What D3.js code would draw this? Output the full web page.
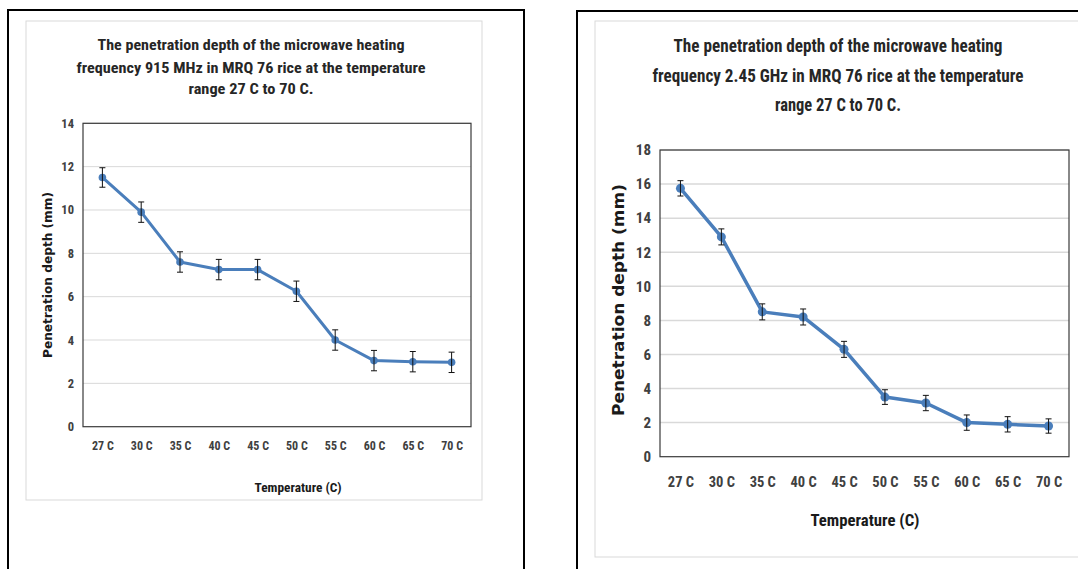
<!DOCTYPE html>
<html>
<head>
<meta charset="utf-8">
<script src="https://cdn.jsdelivr.net/npm/d3@7"></script>
<style>
  html, body { margin: 0; padding: 0; background: #fff; }
  svg { display: block; }
</style>
</head>
<body>
<svg id="chart" width="1078" height="569"></svg>
<script>
// ---------------- data ----------------
const categories = ["27 C", "30 C", "35 C", "40 C", "45 C", "50 C", "55 C", "60 C", "65 C", "70 C"];

const depth915 = [11.5, 9.9, 7.6, 7.25, 7.25, 6.25, 4.0, 3.05, 3.0, 2.97];
const err915   = [0.45, 0.47, 0.47, 0.47, 0.47, 0.47, 0.47, 0.47, 0.47, 0.47];
const yTicks915 = [0, 2, 4, 6, 8, 10, 12, 14];

const depth245 = [15.75, 12.9, 8.5, 8.2, 6.3, 3.5, 3.15, 2.0, 1.9, 1.8];
const err245   = [0.45, 0.47, 0.47, 0.47, 0.47, 0.43, 0.45, 0.45, 0.45, 0.42];
const yTicks245 = [0, 2, 4, 6, 8, 10, 12, 14, 16, 18];

const title915 = [
  "The penetration depth of the microwave heating",
  "frequency 915 MHz  in MRQ 76 rice at the temperature",
  "range 27 C to 70 C."
];
const title245 = [
  "The penetration depth of the microwave heating",
  "frequency 2.45 GHz  in MRQ 76 rice at the temperature",
  "range 27 C to 70 C."
];
const xTitle = "Temperature (C)";
const yTitle = "Penetration depth (mm)";

// ---------------- drawing ----------------
const svg = d3.select("#chart");
const NARROW = "'Liberation Sans Narrow', 'Arial Narrow', 'Roboto Condensed', 'Liberation Sans', sans-serif";
const WIDE = "'DejaVu Sans', Verdana, sans-serif";
const BLUE = "#4a7ebb";

function drawChart(cfg) {
  const g = svg.append("g");

  g.append("rect").attr("x", cfg.outer[0]).attr("y", cfg.outer[1])
    .attr("width", cfg.outer[2]).attr("height", cfg.outer[3])
    .attr("fill", "none").attr("stroke", "#000").attr("stroke-width", 2);
  g.append("rect").attr("x", cfg.inner[0]).attr("y", cfg.inner[1])
    .attr("width", cfg.inner[2]).attr("height", cfg.inner[3])
    .attr("fill", "#fff").attr("stroke", "#d9d9d9").attr("stroke-width", 1);

  const p = cfg.plot; // [x0, y0, x1, y1]
  const x = d3.scalePoint().domain(categories).range([p[0], p[2]]).padding(0.5);
  const y = d3.scaleLinear().domain([0, d3.max(cfg.ticks)]).range([p[3], p[1]]);

  g.append("g").selectAll("line").data(cfg.ticks.slice(1)).join("line")
    .attr("x1", p[0]).attr("x2", p[2])
    .attr("y1", d => y(d)).attr("y2", d => y(d))
    .attr("stroke", "#d9d9d9").attr("stroke-width", cfg.gridW);

  const yAxis = d3.axisLeft(y).tickValues(cfg.ticks).tickSize(0).tickPadding(cfg.tickPad);
  const ya = g.append("g").attr("transform", `translate(${p[0]},0)`).call(yAxis);
  ya.select(".domain").remove();
  ya.selectAll("text").attr("font-family", NARROW).attr("font-weight", "bold")
    .attr("font-size", cfg.tickFont).attr("fill", "#404040");

  const xAxis = d3.axisBottom(x).tickSize(0).tickPadding(cfg.xTickPad);
  const xa = g.append("g").attr("transform", `translate(0,${p[3]})`).call(xAxis);
  xa.select(".domain").remove();
  xa.selectAll("text").attr("font-family", NARROW).attr("font-weight", "bold")
    .attr("font-size", cfg.xTickFont).attr("fill", "#404040");

  g.append("rect").attr("x", p[0]).attr("y", p[1])
    .attr("width", p[2] - p[0]).attr("height", p[3] - p[1])
    .attr("fill", "none").attr("stroke", "#3a3a3a").attr("stroke-width", 1.2);

  const pts = categories.map((c, i) => ({ c, v: cfg.values[i], e: cfg.errors[i] }));

  g.append("path").datum(pts)
    .attr("d", d3.line().x(d => x(d.c)).y(d => y(d.v)))
    .attr("fill", "none").attr("stroke", BLUE).attr("stroke-width", cfg.lineW)
    .attr("stroke-linejoin", "round");

  g.append("g").selectAll("circle").data(pts).join("circle")
    .attr("cx", d => x(d.c)).attr("cy", d => y(d.v)).attr("r", cfg.markerR)
    .attr("fill", BLUE);

  const eb = g.append("g").attr("stroke", "#111").attr("stroke-width", 1);
  eb.selectAll(".v").data(pts).join("line")
    .attr("x1", d => x(d.c)).attr("x2", d => x(d.c))
    .attr("y1", d => y(d.v + d.e)).attr("y2", d => y(d.v - d.e));
  eb.selectAll(".t").data(pts).join("line")
    .attr("x1", d => x(d.c) - cfg.cap).attr("x2", d => x(d.c) + cfg.cap)
    .attr("y1", d => y(d.v + d.e)).attr("y2", d => y(d.v + d.e));
  eb.selectAll(".b").data(pts).join("line")
    .attr("x1", d => x(d.c) - cfg.cap).attr("x2", d => x(d.c) + cfg.cap)
    .attr("y1", d => y(d.v - d.e)).attr("y2", d => y(d.v - d.e));

  cfg.title.forEach((t, i) => {
    g.append("text").attr("x", cfg.titleX).attr("y", cfg.titleY[i])
      .attr("text-anchor", "middle").attr("dominant-baseline", "central")
      .attr("font-family", NARROW).attr("font-weight", "bold")
      .attr("font-size", cfg.titleFont).attr("fill", "#262626")
      .attr("textLength", cfg.titleW[i]).attr("lengthAdjust", "spacingAndGlyphs")
      .text(t);
  });

  g.append("text").attr("x", cfg.xTitlePos[0]).attr("y", cfg.xTitlePos[1])
    .attr("text-anchor", "middle").attr("dominant-baseline", "central")
    .attr("font-family", NARROW).attr("font-weight", "bold")
    .attr("font-size", cfg.xTitleFont).attr("fill", "#1a1a1a")
    .attr("textLength", cfg.xTitleW).attr("lengthAdjust", "spacingAndGlyphs")
    .text(xTitle);

  g.append("text")
    .attr("transform", `translate(${cfg.yTitlePos[0]},${cfg.yTitlePos[1]}) rotate(-90)`)
    .attr("text-anchor", "middle").attr("dominant-baseline", "central")
    .attr("font-family", WIDE).attr("font-weight", "bold")
    .attr("font-size", cfg.yTitleFont).attr("fill", "#1a1a1a")
    .attr("textLength", cfg.yTitleW).attr("lengthAdjust", "spacingAndGlyphs")
    .text(yTitle);
}

drawChart({
  outer: [8, 10, 516, 620],
  inner: [26, 21, 456, 479],
  plot: [83, 123.3, 471, 426.7],
  ticks: yTicks915,
  values: depth915,
  errors: err915,
  gridW: 1,
  tickPad: 9,
  tickFont: 12.5,
  xTickPad: 15,
  xTickFont: 12,
  lineW: 3,
  markerR: 3.8,
  cap: 3,
  title: title915,
  titleX: 251,
  titleY: [45, 68, 89],
  titleW: [307, 349, 125],
  titleFont: 14.5,
  xTitlePos: [298, 487],
  xTitleW: 87,
  xTitleFont: 12.5,
  yTitlePos: [48, 275],
  yTitleW: 166,
  yTitleFont: 11.5
});

drawChart({
  outer: [577, 11, 620, 620],
  inner: [595, 21, 600, 536],
  plot: [660, 150, 1069, 456.7],
  ticks: yTicks245,
  values: depth245,
  errors: err245,
  gridW: 1.5,
  tickPad: 9,
  tickFont: 15,
  xTickPad: 20,
  xTickFont: 14.5,
  lineW: 3.5,
  markerR: 4.5,
  cap: 3,
  title: title245,
  titleX: 838,
  titleY: [45, 75, 104],
  titleW: [329, 371, 126],
  titleFont: 18,
  xTitlePos: [865, 520],
  xTitleW: 109,
  xTitleFont: 17,
  yTitlePos: [619, 300],
  yTitleW: 232,
  yTitleFont: 15.5
});
</script>
</body>
</html>
